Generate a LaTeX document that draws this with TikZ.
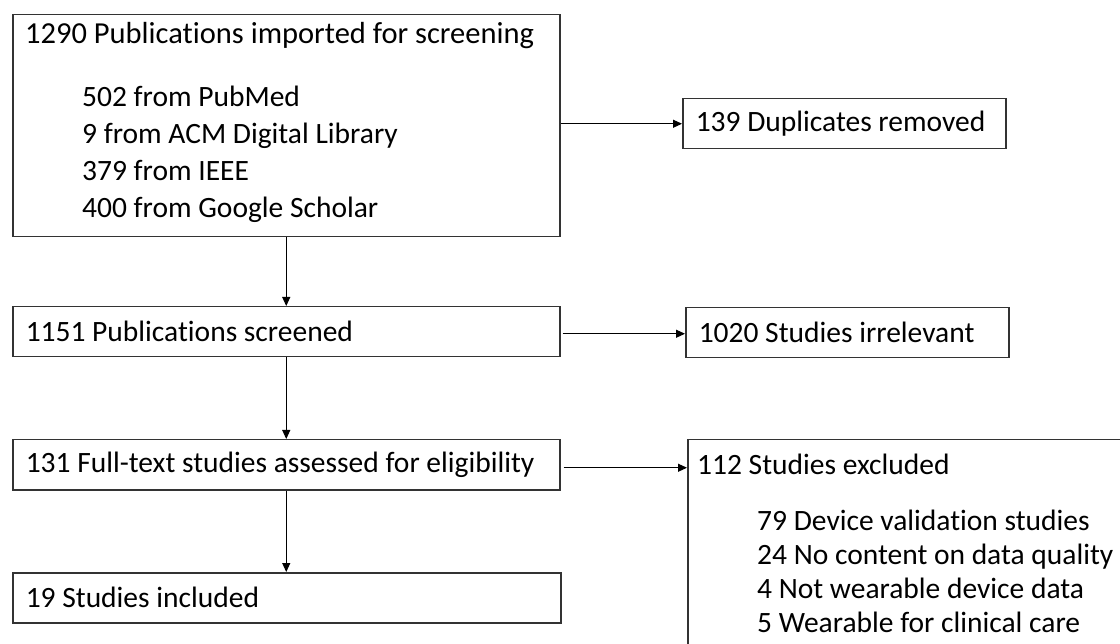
\documentclass[tikz,border=0pt]{standalone}
\usepackage{fontspec}
\setmainfont{Carlito}[Ligatures={NoCommon}]
\usetikzlibrary{arrows.meta,calc}
\definecolor{boxline}{HTML}{333333}
\begin{document}
\begin{tikzpicture}[x=1pt,y=-1pt,
  every node/.style={font=\fontsize{29.5}{35}\selectfont, text=black},
  box/.style={draw=boxline, line width=1.5pt, rectangle, anchor=north west, inner sep=0pt},
  onebox/.style n args={2}{box, minimum width=#1, minimum height=#2, inner xsep=13pt, text width=#1-26, align=flush left},
  txt/.style={anchor=base west, inner sep=0pt},
  arr/.style={draw=black, line width=1.1pt, -{Triangle[length=9pt,width=8pt]}}
]
\useasboundingbox (0,0) rectangle (1120,644);
\clip (0,0) rectangle (1120,644);

% Box 1 with its lines of text
\node[box, minimum width=547, minimum height=222] (b1) at (12,14) {};
\node[txt, font=\fontsize{30.5}{36}\selectfont] (t1) at (25,44) {1290 Publications imported for screening};
\node[txt] (t1a) at (82,107) {502 from PubMed};
\node[txt] (t1b) at (82,144) {9 from ACM Digital Library};
\node[txt] (t1c) at (82,181) {379 from IEEE};
\node[txt] (t1d) at (82,218) {400 from Google Scholar};

% Right boxes
\node[onebox={323}{50}] (b2) at (682,98) {139 Duplicates removed};
\node[onebox={323}{50}] (b4) at (685,307) {1020 Studies irrelevant};
\node[box, minimum width=460, minimum height=240] (b6) at (687,439) {};
\node[txt] (t6) at (697,475) {112 Studies excluded};
\node[txt] (t6a) at (757,530) {79 Device validation studies};
\node[txt] (t6b) at (757,564) {24 No content on data quality};
\node[txt] (t6c) at (757,598) {4 Not wearable device data};
\node[txt] (t6d) at (757,632) {5 Wearable for clinical care};

% Left boxes
\node[onebox={547}{50}] (b3) at (12,306) {1151 Publications screened};
\node[onebox={547}{50}] (b5) at (12,439) {131 Full-text studies assessed for eligibility};
\node[onebox={548}{50}] (b7) at (12,572) {19 Studies included};

% Connectors
\draw[arr] (b2.west -| b1.east) -- (b2.west);
\draw[arr] ([xshift=2pt,yshift=-2pt]b3.east) -- ([yshift=-2pt]b3.east -| b4.west);
\draw[arr] ([xshift=3pt,yshift=-3pt]b5.east) -- ([yshift=-3pt]b5.east -| b6.west);
\draw[arr] (b1.south) -- (b3.north);
\draw[arr] (b3.south) -- (b5.north);
\draw[arr] (b5.south) -- (b5.south |- b7.north);
\end{tikzpicture}
\end{document}
